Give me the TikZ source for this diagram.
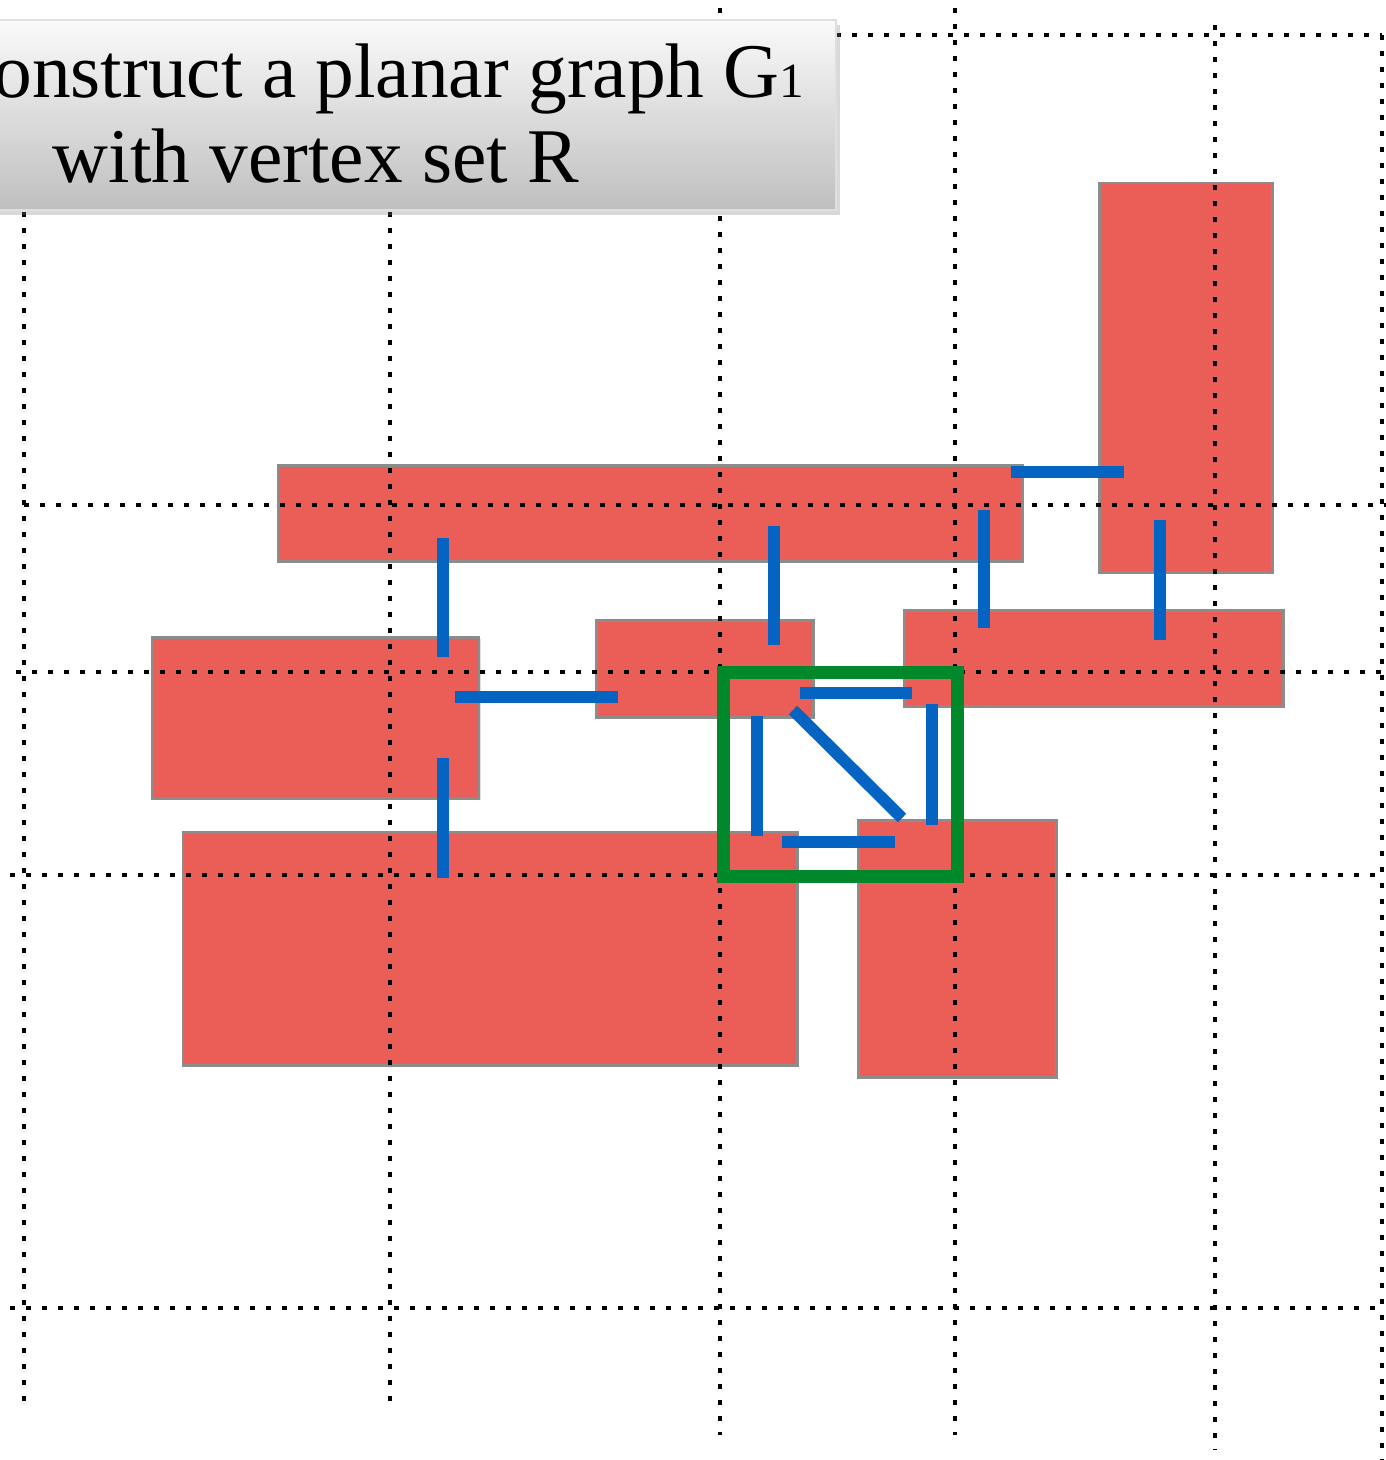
\documentclass[tikz,border=0pt]{standalone}
\usepackage{fontspec}
\setmainfont{Liberation Serif}
\usetikzlibrary{shadows}
\definecolor{roomred}{HTML}{EB5E57}
\definecolor{edgeblue}{HTML}{0563C1}
\definecolor{boxgreen}{HTML}{00882B}

\tikzset{
  rect/.style={fill=roomred,draw=gray!90,line width=.85pt,
    drop shadow={opacity=.25,shadow xshift=.6pt,shadow yshift=-.6pt}},
  gridline/.style={line width=1.4pt,dash pattern=on 1.4pt off 3.15pt},
  gedge/.style={edgeblue,line width=3.4pt},
}

\begin{document}
\begin{tikzpicture}[x=.01cm,y=-.01cm]
  \useasboundingbox (0,0) rectangle (1386,1460);
  % the rectangles of R
  \foreach \a/\b/\c/\d in {278/465/1022/561,1099/183/1272/572,152/637/479/798,
      596/620/813/717,904/610/1283/706,183/832/797/1065,858/820/1056/1077}
           {\draw[rect] (\a,\b) rectangle (\c,\d);}
  % dotted grid
  \foreach \x/\t/\b in {24/212/1410,390/212/1410,720/8/1435,955/8/1435,
      1215/25/1450,1382/35/1460}
           {\draw[gridline] (\x,\t) -- (\x,\b);}
  \foreach \y/\l in {505/24,672/16,875/10,1308/10}
           {\draw[gridline] (\l,\y) -- (1386,\y);}
  \draw[gridline] (836,35) -- (1382,35);
  %
  % edges of G1
  \draw[gedge] (443,538) -- (443,657);
  \draw[gedge] (443,758) -- (443,878);
  \draw[gedge] (455,697) -- (618,697);
  \draw[gedge] (774,526) -- (774,645);
  \draw[gedge] (984,510) -- (984,628);
  \draw[gedge] (1011,472) -- (1124,472);
  \draw[gedge] (1160,520) -- (1160,640);
  \begin{scope}
    \draw[gedge] (800,693) -- (912,693);
    \draw[gedge] (757,716) -- (757,836);
    \draw[gedge] (793,710) -- (902,818);
    \draw[gedge] (932,704) -- (932,825);
    \draw[gedge] (782,842) -- (895,842);
    \draw[boxgreen,line width=3.7pt] (723,672) rectangle (957,876);
  \end{scope}
  %
  % title box
  \begin{scope}
    \clip (0,0) rectangle (1386,1460);
    \draw[draw=gray!25,top color=gray!4,bottom color=gray!50,
      drop shadow={opacity=.3,shadow xshift=1pt,shadow yshift=-1.5pt}]
      (-10,20) rectangle (836,210);
    \node[anchor=base east,inner sep=0,font=\fontsize{22}{26}\selectfont] (ttl1)
      at (805,97) {Construct a planar graph G{\fontsize{14}{14}\selectfont 1}};
    \node[anchor=base west,inner sep=0,font=\fontsize{22}{26}\selectfont] (ttl2)
      at (52,182) {with vertex set R};
  \end{scope}
\end{tikzpicture}
\end{document}
